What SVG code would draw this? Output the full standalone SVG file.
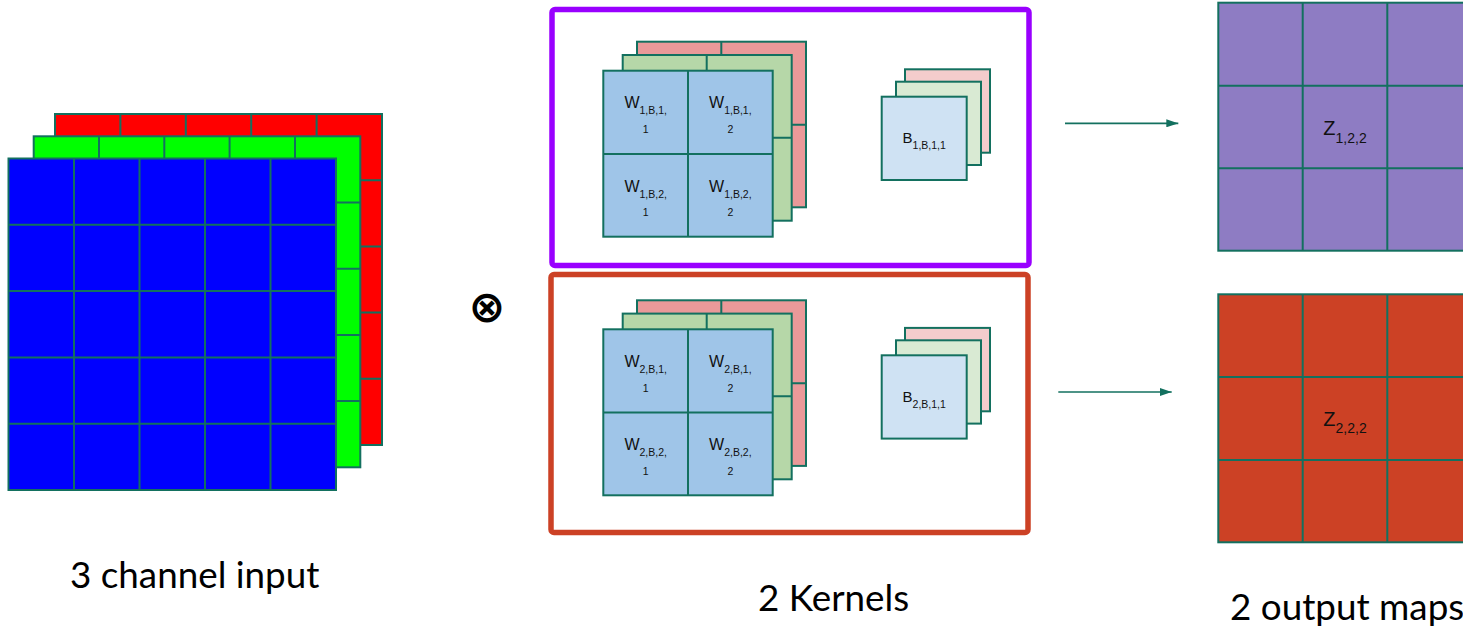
<svg xmlns="http://www.w3.org/2000/svg" width="1463" height="628" viewBox="0 0 1463 628">
<style>
.g{stroke:#13705f;stroke-width:2;fill:none}
.gt{stroke:#13705f;stroke-width:2}
.w{font-family:"Liberation Sans",Arial,sans-serif;font-size:16px;fill:#111}
.ws{font-size:10.5px}
.b{font-family:"Liberation Sans",Arial,sans-serif;font-size:15px;fill:#111}
.z{font-family:"Liberation Sans",Arial,sans-serif;font-size:20px;fill:#111}
.zs{font-size:14px}
.lab{font-family:Lato,"Open Sans",sans-serif;font-size:36.8px;fill:#000}
</style>
<defs>
<marker id="ah" viewBox="0 0 12 8" refX="12" refY="4" markerWidth="12" markerHeight="8" markerUnits="userSpaceOnUse" orient="auto">
<path d="M0,0 L12,4 L0,8 Z" fill="#13705f"/>
</marker>
</defs>
<rect width="1463" height="628" fill="#fff"/>

<g id="input">
<rect x="55" y="114" width="327" height="331" fill="#ff0000" class="gt"/>
<path class="g" d="M120.4,114V445M185.8,114V445M251.2,114V445M316.6,114V445M55,180.2H382M55,246.4H382M55,312.6H382M55,378.8H382"/>
<rect x="33.7" y="136.3" width="326.6" height="331" fill="#00ff00" class="gt"/>
<path class="g" d="M99,136.3V467.3M164.3,136.3V467.3M229.6,136.3V467.3M295,136.3V467.3M33.7,202.5H360.3M33.7,268.7H360.3M33.7,334.9H360.3M33.7,401.1H360.3"/>
<rect x="8.5" y="158.5" width="327.5" height="331.5" fill="#0000ff" class="gt"/>
<path class="g" d="M74,158.5V490M139.5,158.5V490M205,158.5V490M270.5,158.5V490M8.5,224.8H336M8.5,291.1H336M8.5,357.4H336M8.5,423.7H336"/>
</g>

<g id="operator">
<text x="487" y="322" text-anchor="middle" style="font-family:'DejaVu Sans',sans-serif;font-size:44px;font-weight:bold;fill:#000">⊗</text>
</g>

<g id="kernel1">
<rect x="552" y="9.5" width="477" height="256" rx="3" fill="none" stroke="#9900ff" stroke-width="5.5"/>
<rect x="637" y="41.7" width="169" height="165.6" fill="#ea9999" class="gt"/>
<path class="g" d="M721.3,41.7V207.3M637,124.7H806"/>
<rect x="622.7" y="55" width="169" height="165.7" fill="#b6d7a8" class="gt"/>
<path class="g" d="M706.7,55V220.7M622.7,137.7H791.7"/>
<rect x="603.3" y="70.7" width="169.4" height="166" fill="#9fc5e8" class="gt"/>
<path class="g" d="M688,70.7V236.7M603.3,154H772.7"/>
<text class="w" x="645.7" y="108" text-anchor="middle">W<tspan class="ws" dy="6">1,B,1,</tspan></text>
<text class="w ws" x="645.7" y="133" text-anchor="middle">1</text>
<text class="w" x="730.3" y="108" text-anchor="middle">W<tspan class="ws" dy="6">1,B,1,</tspan></text>
<text class="w ws" x="730.3" y="133" text-anchor="middle">2</text>
<text class="w" x="645.7" y="191.7" text-anchor="middle">W<tspan class="ws" dy="6">1,B,2,</tspan></text>
<text class="w ws" x="645.7" y="216" text-anchor="middle">1</text>
<text class="w" x="730.3" y="191.7" text-anchor="middle">W<tspan class="ws" dy="6">1,B,2,</tspan></text>
<text class="w ws" x="730.3" y="216" text-anchor="middle">2</text>
<rect x="905" y="69.3" width="85" height="83.4" fill="#f4cccc" class="gt"/>
<rect x="896" y="81.7" width="85" height="83.3" fill="#d9ead3" class="gt"/>
<rect x="881.7" y="96.7" width="85" height="83.3" fill="#cfe2f3" class="gt"/>
<text class="b" x="924.2" y="143.3" text-anchor="middle">B<tspan class="ws" dy="6">1,B,1,1</tspan></text>
</g>

<g id="kernel2">
<rect x="551" y="274.5" width="477" height="258" rx="3" fill="none" stroke="#cc4125" stroke-width="5.5"/>
<g transform="translate(0,258.6)">
<rect x="637" y="41.7" width="169" height="165.6" fill="#ea9999" class="gt"/>
<path class="g" d="M721.3,41.7V207.3M637,124.7H806"/>
<rect x="622.7" y="55" width="169" height="165.7" fill="#b6d7a8" class="gt"/>
<path class="g" d="M706.7,55V220.7M622.7,137.7H791.7"/>
<rect x="603.3" y="70.7" width="169.4" height="166" fill="#9fc5e8" class="gt"/>
<path class="g" d="M688,70.7V236.7M603.3,154H772.7"/>
<text class="w" x="645.7" y="108" text-anchor="middle">W<tspan class="ws" dy="6">2,B,1,</tspan></text>
<text class="w ws" x="645.7" y="133" text-anchor="middle">1</text>
<text class="w" x="730.3" y="108" text-anchor="middle">W<tspan class="ws" dy="6">2,B,1,</tspan></text>
<text class="w ws" x="730.3" y="133" text-anchor="middle">2</text>
<text class="w" x="645.7" y="191.7" text-anchor="middle">W<tspan class="ws" dy="6">2,B,2,</tspan></text>
<text class="w ws" x="645.7" y="216" text-anchor="middle">1</text>
<text class="w" x="730.3" y="191.7" text-anchor="middle">W<tspan class="ws" dy="6">2,B,2,</tspan></text>
<text class="w ws" x="730.3" y="216" text-anchor="middle">2</text>
<rect x="905" y="69.3" width="85" height="83.4" fill="#f4cccc" class="gt"/>
<rect x="896" y="81.7" width="85" height="83.3" fill="#d9ead3" class="gt"/>
<rect x="881.7" y="96.7" width="85" height="83.3" fill="#cfe2f3" class="gt"/>
<text class="b" x="924.2" y="143.3" text-anchor="middle">B<tspan class="ws" dy="6">2,B,1,1</tspan></text>
</g>
</g>

<g id="output1">
<rect x="1218.3" y="2.7" width="260" height="248" fill="#8e7cc3" class="gt"/>
<path class="g" d="M1302.7,2.7V250.7M1387.3,2.7V250.7M1218.3,85.7H1480M1218.3,168.3H1480"/>
<text class="z" x="1345" y="135" text-anchor="middle">Z<tspan class="zs" dy="7.7">1,2,2</tspan></text>
</g>

<g id="output2">
<rect x="1218.3" y="294.3" width="260" height="248" fill="#cc4125" class="gt"/>
<path class="g" d="M1302.7,294.3V542.3M1387.3,294.3V542.3M1218.3,377H1480M1218.3,460H1480"/>
<text class="z" x="1345" y="425.7" text-anchor="middle">Z<tspan class="zs" dy="7.7">2,2,2</tspan></text>
</g>

<g id="connectors" stroke="#13705f" stroke-width="1.7" fill="none">
<line x1="1065" y1="123.3" x2="1178.3" y2="123.3" marker-end="url(#ah)"/>
<line x1="1058.3" y1="392" x2="1171.7" y2="392" marker-end="url(#ah)"/>
</g>

<g id="labels">
<text class="lab" x="70" y="588">3 channel input</text>
<text class="lab" x="758" y="611">2 Kernels</text>
<text class="lab" x="1230" y="620">2 output maps</text>
</g>
</svg>
